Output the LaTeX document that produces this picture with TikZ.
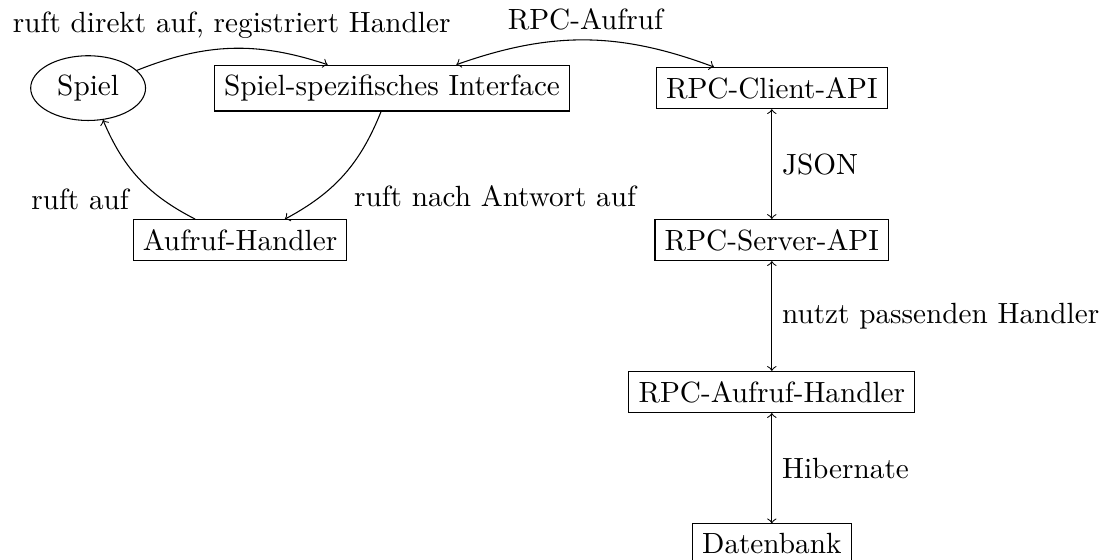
\documentclass[tikz,border=0pt,11pt]{standalone}
\usetikzlibrary{shapes.geometric}
\begin{document}
\begin{tikzpicture}[box/.style={draw,rectangle}]
\useasboundingbox (-1.16,-6.21) rectangle (13.32,1.16);
\node[draw,ellipse] (spiel) at (0,0) {Spiel};
\node[box] (interface) at (4,0) {Spiel-spezifisches Interface};
\node[box] (handler) at (2,-2) {Aufruf-Handler};
\node[box] (client) at (9,0) {RPC-Client-API};
\node[box] (server) at (9,-2) {RPC-Server-API};
\node[box] (rpchandler) at (9,-4) {RPC-Aufruf-Handler};
\node[box] (db) at (9,-6) {Datenbank};
\draw[->] (spiel) to[bend left=20] node[above] {ruft direkt auf, registriert Handler} (interface);
\draw[<->] (interface) to[bend left=20] node[above] {RPC-Aufruf} (client);
\draw[->] (interface) to[bend left=20] node[below right] {ruft nach Antwort auf} (handler);
\draw[->] (handler) to[bend left=20] node[below left] {ruft auf} (spiel);
\draw[<->] (client) -- node[right] {JSON} (server);
\draw[<->] (server) -- node[right] {nutzt passenden Handler} (rpchandler);
\draw[<->] (rpchandler) -- node[right] {Hibernate} (db);
\end{tikzpicture}
\end{document}
